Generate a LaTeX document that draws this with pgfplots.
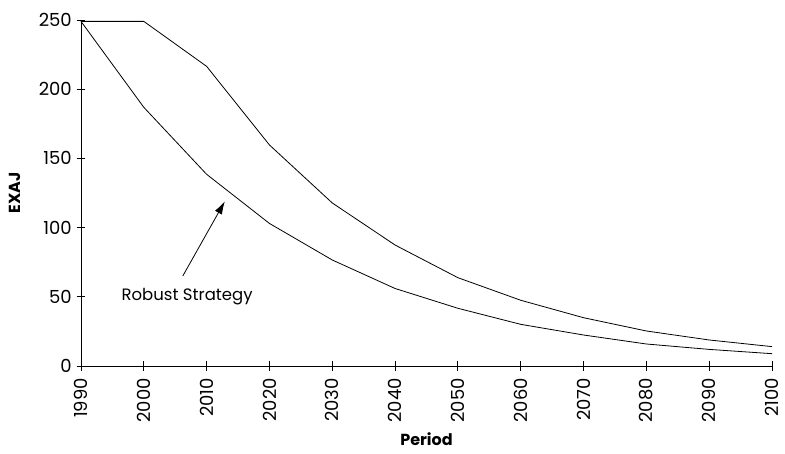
\documentclass[border=0pt]{standalone}
\usepackage{fontspec}
\setmainfont{Poppins}
\usepackage{pgfplots}
\pgfplotsset{compat=1.18}
\usetikzlibrary{arrows.meta}
\begin{document}
\begin{tikzpicture}
\begin{axis}[
  name=ax,
  at={(0,0)}, anchor=south west,
  scale only axis,
  width=691pt, height=346pt,
  xmin=1990, xmax=2100, ymin=0, ymax=250,
  axis x line*=bottom, axis y line*=left,
  axis line style={line width=0.8pt, -},
  xtick={1990,2000,...,2100},
  ytick={0,50,...,250},
  tick style={draw=none},
  /pgf/number format/assume math mode=true,
  /pgf/number format/1000 sep={},
  ticklabel style={font=\fontsize{18}{20}\selectfont},
  xticklabel style={rotate=90, anchor=east, inner xsep=12pt},
  yticklabel style={inner xsep=9pt},
  xlabel={\textbf{Period}},
  ylabel={\textbf{EXAJ}},
  label style={font=\fontsize{16}{18}\selectfont},
  xlabel style={yshift=5pt},
  ylabel style={yshift=6pt},
  clip=false,
  unbounded coords=jump,
]
\addplot[black, line width=0.8pt] coordinates {
 (1990,249) (2000,249) (2010,216.5) (2020,159.7) (2030,117.8) (2040,87.4)
 (2050,63.8) (2060,47.5) (2070,34.9) (2080,25.3) (2090,18.8) (2100,14)
};
\addplot[black, line width=0.8pt] coordinates {
 (1990,249) (2000,186.9) (2010,138.5) (2020,103) (2030,76.6) (2040,56)
 (2050,41.7) (2060,30.1) (2070,22.4) (2080,15.9) (2090,12) (2100,8.9)
};
% tick marks crossing the axes
\addplot[black, line width=0.9pt] coordinates {
 (1990,-3.3) (1990,3.3) (nan,nan)
 (2000,-3.3) (2000,3.3) (nan,nan)
 (2010,-3.3) (2010,3.3) (nan,nan)
 (2020,-3.3) (2020,3.3) (nan,nan)
 (2030,-3.3) (2030,3.3) (nan,nan)
 (2040,-3.3) (2040,3.3) (nan,nan)
 (2050,-3.3) (2050,3.3) (nan,nan)
 (2060,-3.3) (2060,3.3) (nan,nan)
 (2070,-3.3) (2070,3.3) (nan,nan)
 (2080,-3.3) (2080,3.3) (nan,nan)
 (2090,-3.3) (2090,3.3) (nan,nan)
 (2100,-3.3) (2100,3.3)
};
\addplot[black, line width=0.9pt] coordinates {
 (1989.3,0) (1990.7,0) (nan,nan)
 (1989.3,50) (1990.7,50) (nan,nan)
 (1989.3,100) (1990.7,100) (nan,nan)
 (1989.3,150) (1990.7,150) (nan,nan)
 (1989.3,200) (1990.7,200) (nan,nan)
 (1989.3,250) (1990.7,250)
};
\draw[-{Latex[length=13pt,width=8pt]}, line width=0.8pt] (axis cs:2006.2,65) -- (axis cs:2012.9,119);
\node[font=\fontsize{16.5}{18}\selectfont] at (axis cs:2006.9,50) {Robust Strategy};
\end{axis}
\pgfresetboundingbox
\path[use as bounding box] (-81pt,-87pt) rectangle (704pt,366pt);
\end{tikzpicture}
\end{document}
